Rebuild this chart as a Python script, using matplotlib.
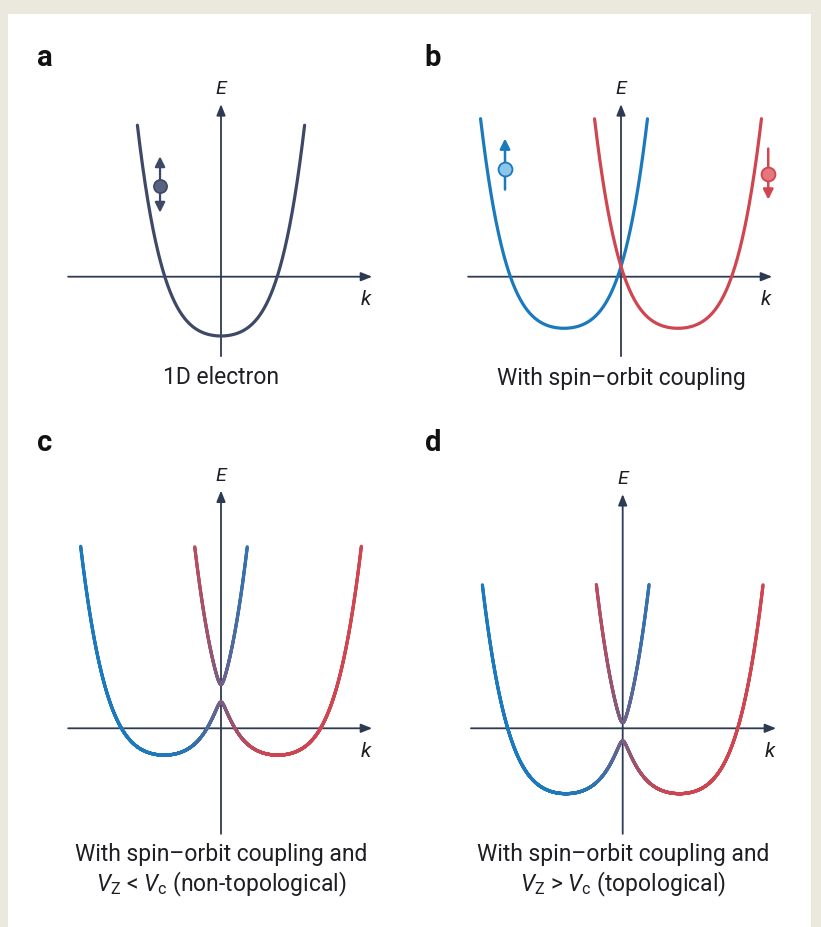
import numpy as np
import matplotlib
matplotlib.use("Agg")
import matplotlib.pyplot as plt
from matplotlib.collections import LineCollection
from matplotlib.patches import Rectangle

plt.rcParams["font.family"] = ["Roboto", "DejaVu Sans"]
plt.rcParams["mathtext.fontset"] = "custom"
plt.rcParams["mathtext.rm"] = "Roboto"
plt.rcParams["mathtext.it"] = "Roboto:italic"

# ---------------- band parameters (k, E in arbitrary units) ----------------
# non-parabolic free-electron band  f(k) = QUAD*k^2 + QUART*k^4
QUAD = 0.5
QUART = 0.5
K_SHIFT = 1.014          # spin-orbit momentum shift of the two spin bands

panel_keys = ["a", "b", "c", "d"]
band_bottom = [-1.00, -0.87, -0.45, -1.10]   # energy of the band minimum
zeeman = [0.0, 0.0, 0.15, 0.155]             # Zeeman splitting V_Z
energy_top = [2.56, 2.67, 3.07, 2.43]        # highest energy drawn
captions = [
    "1D electron",
    "With spin\u2013orbit coupling",
    "With spin\u2013orbit coupling and\n$V_{\\mathrm{Z}}$ < $V_{\\mathrm{c}}$ (non-topological)",
    "With spin\u2013orbit coupling and\n$V_{\\mathrm{Z}}$ > $V_{\\mathrm{c}}$ (topological)",
]

# ---------------- layout (pixels) ----------------
W, H = 821, 928
SX, SY = 56.2, 59.3          # pixels per unit of k and E
origins = {"a": (221, 277.7), "b": (621, 277.7), "c": (221, 729.3), "d": (622.7, 729.3)}
kaxis = {"a": (-2.72, 2.69), "b": (-2.72, 2.69), "c": (-2.72, 2.69), "d": (-2.70, 2.73)}
eaxis = {"a": (-1.34, 2.91), "b": (-1.34, 2.91), "c": (-1.78, 4.01), "d": (-1.78, 3.95)}
letter_pos = {"a": (45, 58), "b": (433, 58), "c": (45, 443), "d": (433, 443)}
caption_y = {"a": 378, "b": 379, "c": 871, "d": 871}

AXIS_C = "#2c3a52"
MONO_C = "#3d4966"
BLUE = np.array([27, 121, 189]) / 255
RED = np.array([207, 69, 80]) / 255
TEXT_C = "#1e1e24"
BLEND = 1.5   # width of the colour blend between spin characters


def f(k):
    return QUAD * k**2 + QUART * k**4


def px(x, y):
    return x / W, 1 - y / H


fig = plt.figure(figsize=(W / 100, H / 100), dpi=100)
fig.patch.set_facecolor("#ebe8de")
fig.patches.append(Rectangle((8 / W, 0), (811 - 8) / W, 1 - 15 / H,
                             transform=fig.transFigure, facecolor="white",
                             edgecolor="none", zorder=-5))


def panel_axes(key):
    x0, y0 = origins[key]
    ax = fig.add_axes([0, 0, 1, 1], zorder=1)
    ax.set_xlim(-x0 / SX, (W - x0) / SX)
    ax.set_ylim((y0 - H) / SY, y0 / SY)
    ax.axis("off")
    ax.patch.set_alpha(0)
    k0, k1 = kaxis[key]
    e0, e1 = eaxis[key]
    arrow = dict(arrowstyle="-|>,head_length=0.55,head_width=0.22", color=AXIS_C,
                 lw=1.3, shrinkA=0, shrinkB=0, mutation_scale=12)
    ax.annotate("", xy=(k1, 0), xytext=(k0, 0), arrowprops=arrow, zorder=2)
    ax.annotate("", xy=(0, e1), xytext=(0, e0), arrowprops=arrow, zorder=2)
    return ax


def draw_colored(ax, k, e, w_up, top):
    pts = np.column_stack([k, e])
    segs = np.stack([pts[:-1], pts[1:]], axis=1)
    keep = (e[:-1] <= top) & (e[1:] <= top)
    wm = 0.5 * (w_up[:-1] + w_up[1:])
    cols = wm[:, None] * BLUE + (1 - wm[:, None]) * RED
    lc = LineCollection(segs[keep], colors=cols[keep], linewidths=2.3,
                        capstyle="round", joinstyle="round", zorder=3)
    ax.add_collection(lc)


def draw_plain(ax, k, e, color, top):
    m = e <= top
    ax.plot(k[m], e[m], color=color, lw=2.3, solid_capstyle="round", zorder=3)


kk = np.linspace(-3.5, 3.5, 4001)

for i, key in enumerate(panel_keys):
    ax = panel_axes(key)
    ev, vz, top = band_bottom[i], zeeman[i], energy_top[i]
    if key == "a":
        draw_plain(ax, kk, ev + f(kk), MONO_C, top)
    elif key == "b":
        draw_plain(ax, kk, ev + f(kk + K_SHIFT), BLUE, top)
        draw_plain(ax, kk, ev + f(kk - K_SHIFT), RED, top)
    else:
        e_up = ev + f(kk + K_SHIFT)
        e_dn = ev + f(kk - K_SHIFT)
        mid = 0.5 * (e_up + e_dn)
        d = 0.5 * (e_up - e_dn)
        r = np.sqrt(d**2 + vz**2)
        mix = d / np.sqrt(d**2 + BLEND**2)
        draw_colored(ax, kk, mid - r, 0.5 * (1 - mix), top)
        draw_colored(ax, kk, mid + r, 0.5 * (1 + mix), top)

    # axis labels and panel letter
    x0, y0 = origins[key]
    ex, ey = px(x0, y0 - eaxis[key][1] * SY - 16)
    fig.text(ex, ey, "E", ha="center", va="center", fontsize=14,
             style="italic", color=TEXT_C)
    kx, ky = px(x0 + kaxis[key][1] * SX - 6, y0 + 22)
    fig.text(kx, ky, "k", ha="center", va="center", fontsize=15,
             style="italic", color=TEXT_C)
    lx, ly = px(*letter_pos[key])
    fig.text(lx, ly, key, ha="center", va="center", fontsize=21,
             fontweight="bold", color="#111111")
    cx, cy = px(x0, caption_y[key])
    fig.text(cx, cy, captions[i], ha="center", va="center", fontsize=16.5,
             color=TEXT_C, linespacing=1.2)

    # spin symbols
    if key == "a":
        ax.annotate("", xy=(-1.085, 2.03), xytext=(-1.085, 1.08),
                    arrowprops=dict(arrowstyle="<|-|>,head_length=0.5,head_width=0.25",
                                    color=MONO_C, lw=1.6, shrinkA=0, shrinkB=0,
                                    mutation_scale=12), zorder=4)
        ax.plot([-1.085], [1.535], "o", ms=9.5, mfc="#56627f", mec=MONO_C,
                mew=1.2, zorder=5)
    elif key == "b":
        ax.annotate("", xy=(-2.064, 2.33), xytext=(-2.064, 1.47),
                    arrowprops=dict(arrowstyle="-|>,head_length=0.5,head_width=0.25",
                                    color=BLUE, lw=1.8, shrinkA=0, shrinkB=0,
                                    mutation_scale=12), zorder=4)
        ax.plot([-2.064], [1.816], "o", ms=10, mfc="#8cc6ea", mec=BLUE,
                mew=1.3, zorder=5)
        ax.annotate("", xy=(2.62, 1.30), xytext=(2.62, 2.16),
                    arrowprops=dict(arrowstyle="-|>,head_length=0.5,head_width=0.25",
                                    color=RED, lw=1.8, shrinkA=0, shrinkB=0,
                                    mutation_scale=12), zorder=4)
        ax.plot([2.62], [1.73], "o", ms=10, mfc="#e3777c", mec=RED,
                mew=1.3, zorder=5)

fig.savefig("out.png", dpi=100, facecolor=fig.get_facecolor())
